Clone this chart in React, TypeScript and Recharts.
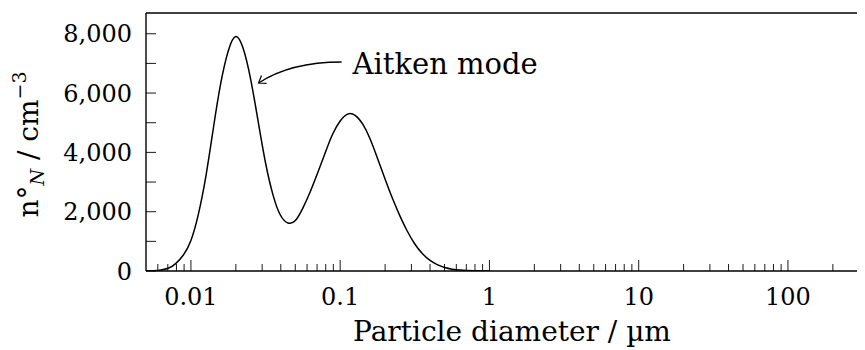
import React from 'react';
import { LineChart, Line, XAxis, YAxis, ReferenceLine, ReferenceDot } from 'recharts';

// particle size distribution
const diameters = [
  0.005, 0.0056, 0.0063, 0.0071, 0.0079, 0.0089, 0.01, 0.0112, 0.0126, 0.0141,
  0.0158, 0.0178, 0.02, 0.0224, 0.0251, 0.0282, 0.0316, 0.0355, 0.0398, 0.0447,
  0.0501, 0.0562, 0.0631, 0.0708, 0.0794, 0.0891, 0.1, 0.1122, 0.1259, 0.1413,
  0.1585, 0.1778, 0.1995, 0.2239, 0.2512, 0.2818, 0.3162, 0.3548, 0.3981, 0.4467,
  0.5012, 0.5623, 0.631, 0.7943, 1,
];
const concentrations = [
  0, 10, 35, 100, 250, 540, 1030, 1900, 3200, 4780,
  6300, 7430, 7910, 7500, 6480, 5050, 3650, 2560, 1880, 1620,
  1700, 2120, 2680, 3320, 3990, 4620, 5060, 5290, 5250, 4960,
  4460, 3800, 3110, 2450, 1860, 1340, 910, 590, 365, 215,
  120, 62, 30, 5, 0,
];

const yTicks = [0, 1000, 2000, 3000, 4000, 5000, 6000, 7000, 8000];
const yLabelled = [0, 2000, 4000, 6000, 8000];
const xMajor = [0.01, 0.1, 1, 10, 100];
const xMinor = [
  0.006, 0.007, 0.008, 0.009,
  0.02, 0.03, 0.04, 0.05, 0.06, 0.07, 0.08, 0.09,
  0.2, 0.3, 0.4, 0.5, 0.6, 0.7, 0.8, 0.9,
  2, 3, 4, 5, 6, 7, 8, 9,
  20, 30, 40, 50, 60, 70, 80, 90,
  200, 300, 400, 500, 600, 700, 800, 900,
];

const X_DOMAIN = [0.005, 1000];
const Y_MAX = 8700;
const FONT = '"DejaVu Serif", serif';

const data = diameters.map((d, i) => ({ d, n: concentrations[i] }));
const xTicks = [...xMinor, ...xMajor].sort((a, b) => a - b);

const XTick = (props: any) => {
  const { x, y, payload } = props;
  const major = xMajor.includes(payload.value);
  return (
    <g>
      <line x1={x} x2={x} y1={y} y2={y - (major ? 11 : 7)} stroke="#000" strokeWidth={0.9} />
      {major && (
        <text x={x} y={y + 34} textAnchor="middle" fontFamily={FONT} fontSize={24} fill="#000">
          {String(payload.value)}
        </text>
      )}
    </g>
  );
};

const YTick = (props: any) => {
  const { x, y, payload } = props;
  const show = yLabelled.includes(payload.value);
  return (
    <g>
      <line x1={x} x2={x + 10} y1={y} y2={y} stroke="#000" strokeWidth={0.9} />
      {show && (
        <text x={x - 14} y={y} dy="0.36em" textAnchor="end" fontFamily={FONT} fontSize={24} fill="#000">
          {payload.value.toLocaleString('en-US')}
        </text>
      )}
    </g>
  );
};

// arrow + label pointing at the first peak
const Annotation = (props: any) => {
  const { cx, cy } = props;
  const sx = cx + 83;
  const sy = cy - 21;
  const qx = cx + 32;
  const qy = cy - 21;
  const dx = cx - qx;
  const dy = cy - qy;
  const len = Math.hypot(dx, dy);
  const ux = dx / len;
  const uy = dy / len;
  const a = 0.62;
  const L = 8;
  const b1x = cx - L * (ux * Math.cos(a) - uy * Math.sin(a));
  const b1y = cy - L * (ux * Math.sin(a) + uy * Math.cos(a));
  const b2x = cx - L * (ux * Math.cos(-a) - uy * Math.sin(-a));
  const b2y = cy - L * (ux * Math.sin(-a) + uy * Math.cos(-a));
  return (
    <g>
      <path d={`M${sx},${sy} Q${qx},${qy} ${cx},${cy}`} fill="none" stroke="#000" strokeWidth={1.3} />
      <path d={`M${b1x},${b1y} L${cx},${cy} L${b2x},${b2y}`} fill="none" stroke="#000" strokeWidth={1.2} />
      <text x={cx + 94} y={cy - 9} fontFamily={FONT} fontSize={29} fill="#000">
        Aitken mode
      </text>
    </g>
  );
};

const App: React.FC = () => {
  return (
    <div style={{ width: 857, height: 342, overflow: 'hidden' }}>
      <LineChart
        width={940}
        height={342}
        data={data}
        margin={{ top: 5, right: 10.8, left: 0, bottom: 0 }}
      >
        <XAxis
          dataKey="d"
          type="number"
          scale="log"
          domain={X_DOMAIN}
          allowDataOverflow
          ticks={xTicks}
          interval={0}
          tickSize={0}
          tickMargin={0}
          tick={<XTick />}
          height={79}
          axisLine={{ stroke: '#000', strokeWidth: 1.4 }}
          label={{
            content: () => (
              <text x={504} y={333} textAnchor="middle" fontFamily={FONT} fontSize={28} fill="#000">
                Particle diameter / µm
              </text>
            ),
          }}
        />
        <YAxis
          type="number"
          domain={[0, Y_MAX]}
          allowDataOverflow
          ticks={yTicks}
          interval={0}
          tickSize={0}
          tickMargin={0}
          tick={<YTick />}
          width={138}
          axisLine={{ stroke: '#000', strokeWidth: 1.4 }}
          label={{
            content: () => (
              <text
                transform="translate(30,136.5) rotate(-90)"
                textAnchor="middle"
                fontFamily={FONT}
                fontSize={28}
                fill="#000"
              >
                n°
                <tspan fontStyle="italic" fontSize={19} dy={6}>N</tspan>
                <tspan dy={-6}> / cm</tspan>
                <tspan fontSize={19} dy={-12}>−3</tspan>
              </text>
            ),
          }}
        />
        <ReferenceLine y={Y_MAX} stroke="#000" strokeWidth={1.4} ifOverflow="visible" />
        <Line
          type="natural"
          dataKey="n"
          stroke="#000"
          strokeWidth={1.5}
          dot={false}
          isAnimationActive={false}
        />
        <ReferenceDot x={0.0284} y={6340} r={0} ifOverflow="visible" shape={Annotation} />
      </LineChart>
    </div>
  );
};

export default App;
